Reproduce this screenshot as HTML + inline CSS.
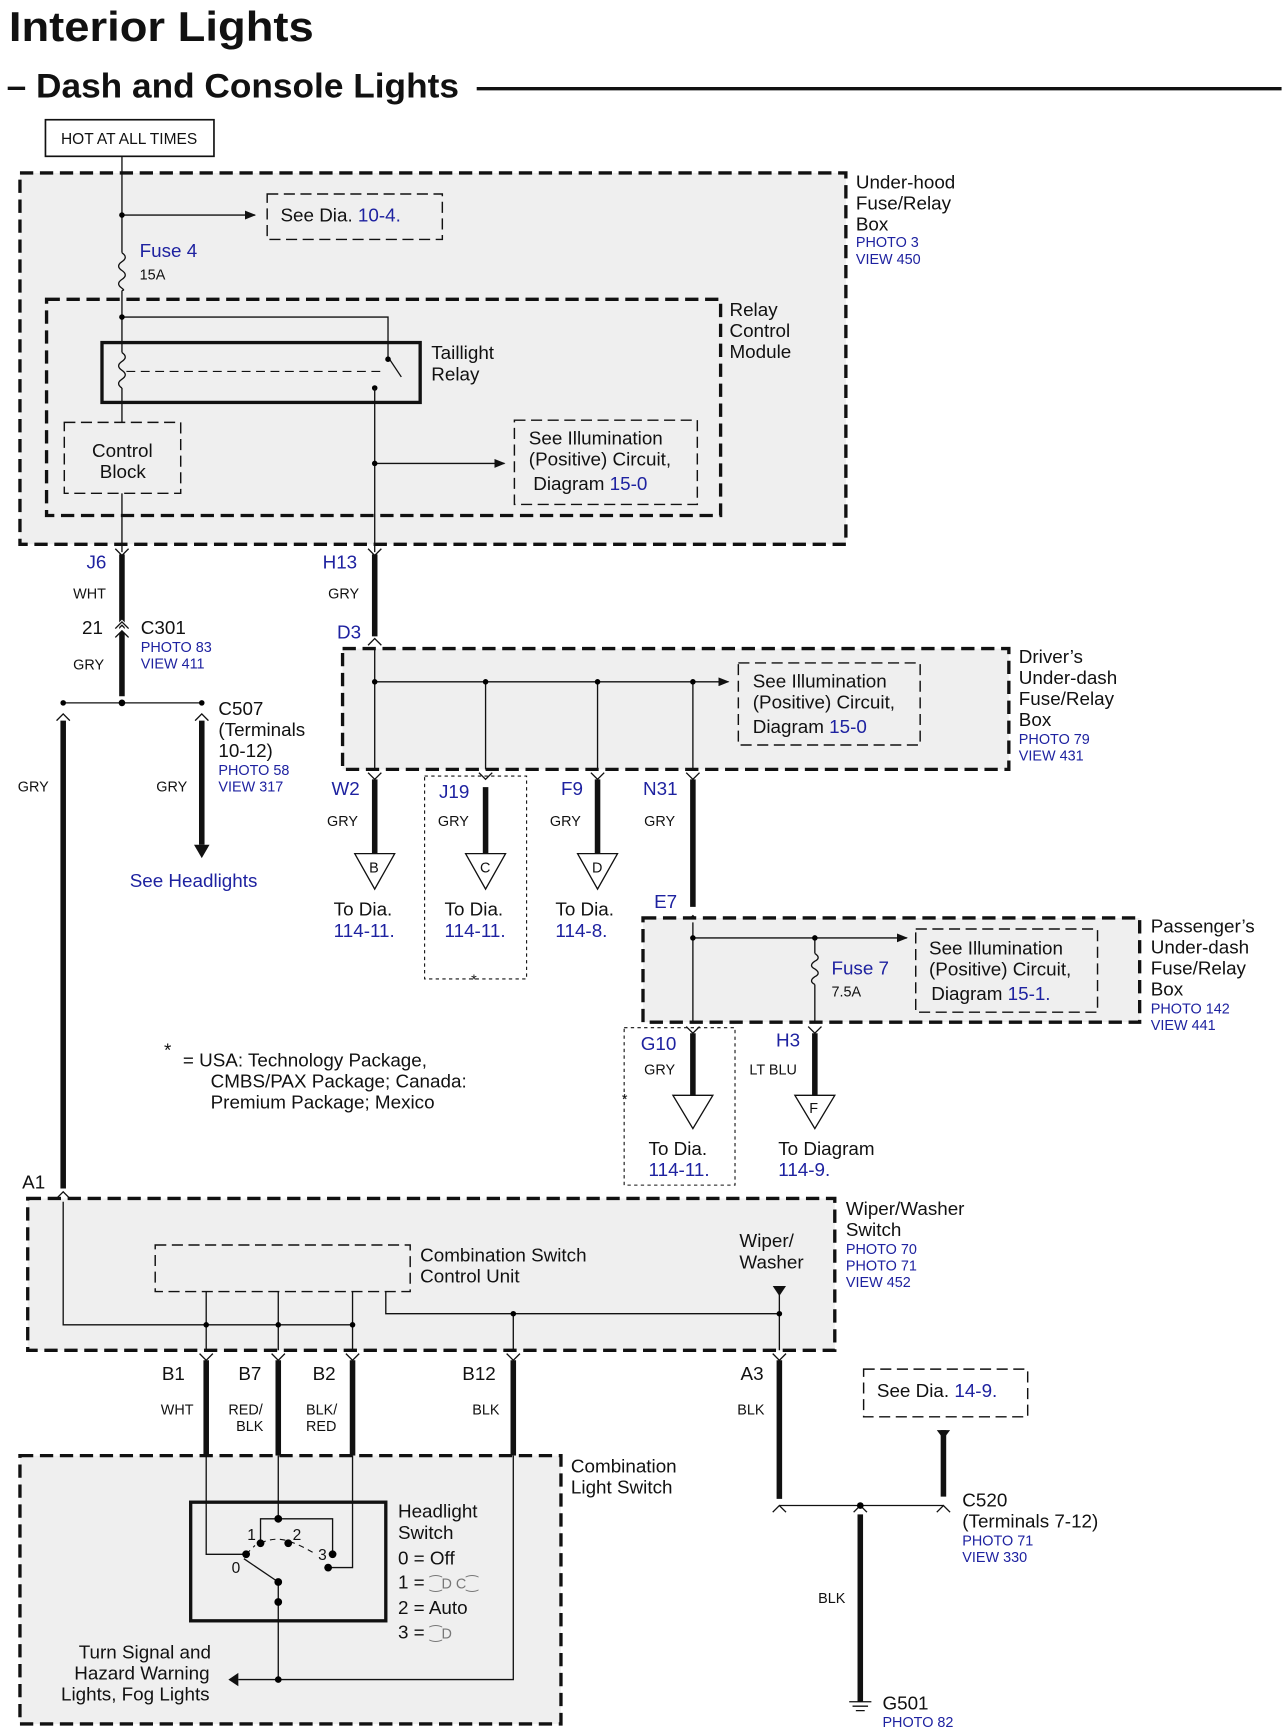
<!DOCTYPE html>
<html><head><meta charset="utf-8"><style>
html,body{margin:0;padding:0;background:#fff;}
svg{display:block;}
text{font-family:"Liberation Sans",Arial,sans-serif;fill:#111;}
.b{fill:#1e22a0;}
.s{font-size:13px;}
.m{font-size:17px;}
.bl{font-size:13px;fill:#1e22a0;}
.box{fill:#efefef;stroke:#111;stroke-width:3;stroke-dasharray:12 6;}
.ibox{fill:none;stroke:#111;stroke-width:1.3;stroke-dasharray:10 5;}
.dot{fill:none;stroke:#111;stroke-width:1;stroke-dasharray:3 3;}
.w{stroke:#111;stroke-width:1.2;fill:none;}
.W{stroke:#111;stroke-width:5;fill:none;}
</style></head><body>
<svg width="1286" height="1735" viewBox="0 0 1160 1565" preserveAspectRatio="none" xmlns="http://www.w3.org/2000/svg">
<defs>
<marker id="ar" markerWidth="10" markerHeight="8" refX="9" refY="4" orient="auto" markerUnits="userSpaceOnUse"><path d="M0,0 L10,4 L0,8z" fill="#111"/></marker>
</defs>
<text x="8" y="37" style="font-size:38px;font-weight:bold" textLength="275" lengthAdjust="spacingAndGlyphs">Interior Lights</text>
<text x="6" y="88" style="font-size:31px;font-weight:bold" textLength="408" lengthAdjust="spacingAndGlyphs">– Dash and Console Lights</text>
<line x1="430" y1="80" x2="1156" y2="80" stroke="#111" stroke-width="3"/>
<rect x="41" y="108" width="152" height="33" fill="#fff" stroke="#111" stroke-width="1.5"/>
<text x="55" y="130" class="s" style="font-size:14px">HOT AT ALL TIMES</text>

<!-- Under-hood -->
<rect x="18" y="156" width="745" height="335" class="box"/>
<rect x="42" y="270" width="608" height="195" class="box"/>
<text x="772" y="170" class="m">Under-hood</text><text x="772" y="189" class="m">Fuse/Relay</text><text x="772" y="208" class="m">Box</text>
<text x="772" y="223" class="bl">PHOTO 3</text><text x="772" y="238" class="bl">VIEW 450</text>
<path class="w" d="M110,141 V228 M110,262 V318 M110,350 V381 M110,445 V498"/>
<path class="w" d="M110,228 q6,4 0,8 q-6,4 0,8 q6,4 0,8 q-6,4 0,8 q3,2 0,2"/>
<line x1="110" y1="194" x2="230" y2="194" class="w" marker-end="url(#ar)"/>
<circle cx="110" cy="194" r="2.5"/>
<rect x="241" y="175" width="158" height="41" class="ibox" fill="none"/>
<text x="253" y="200" class="m">See  Dia. <tspan class="b">10-4.</tspan></text>
<text x="126" y="232" class="m b">Fuse 4</text><text x="126" y="252" class="s">15A</text>
<text x="658" y="285" class="m">Relay</text><text x="658" y="304" class="m">Control</text><text x="658" y="323" class="m">Module</text>
<rect x="92" y="309" width="287" height="54" fill="none" stroke="#111" stroke-width="3"/>
<text x="389" y="324" class="m">Taillight</text><text x="389" y="343" class="m">Relay</text>
<path class="w" d="M110,286 H350 V322 L362,340"/>
<circle cx="110" cy="286" r="2.5"/><circle cx="350" cy="324" r="2.5"/><circle cx="338" cy="350" r="2.5"/>
<path class="w" d="M110,318 q6,4 0,8 q-6,4 0,8 q6,4 0,8 q-6,4 0,8"/>
<line x1="114" y1="335" x2="345" y2="335" stroke="#111" stroke-dasharray="8 5"/>
<path class="w" d="M338,350 V498"/>
<line x1="338" y1="418" x2="455" y2="418" class="w" marker-end="url(#ar)"/><circle cx="338" cy="418" r="2.5"/>
<rect x="464" y="379" width="165" height="76" class="ibox"/>
<text x="477" y="401" class="m">See Illumination</text><text x="477" y="420" class="m">(Positive) Circuit,</text><text x="481" y="442" class="m">Diagram <tspan class="b">15-0</tspan></text>
<rect x="58" y="381" width="105" height="64" class="ibox"/>
<text x="83" y="412" class="m">Control</text><text x="90" y="431" class="m">Block</text>

<!-- J6 / H13 -->
<path class="W" d="M110,500 V628"/><path class="w" d="M104,495 l6,6 l6,-6 M332,495 l6,6 l6,-6"/>
<text x="78" y="513" class="m b">J6</text><text x="66" y="540" class="s">WHT</text>
<text x="74" y="572" class="m">21</text><text x="127" y="572" class="m">C301</text>
<text x="127" y="588" class="bl">PHOTO 83</text><text x="127" y="603" class="bl">VIEW 411</text>
<text x="66" y="604" class="s">GRY</text>
<path d="M104,567 l6,-6 l6,6 M104,573 l6,-6 l6,6" stroke="#fff" stroke-width="3" fill="none"/>
<path class="w" d="M104,567 l6,-6 l6,6 M104,575 l6,-6 l6,6"/>
<path class="w" d="M57,634 H182"/><circle cx="57" cy="634" r="2.5"/><circle cx="110" cy="634" r="3"/><circle cx="182" cy="634" r="2.5"/>
<path class="w" d="M51,650 l6,-6 l6,6 M176,650 l6,-6 l6,6"/>
<path class="W" d="M57,650 V1072"/><path class="W" d="M182,650 V762"/><path d="M175,762 h14 l-7,12z" fill="#111"/>
<text x="16" y="714" class="s">GRY</text><text x="141" y="714" class="s">GRY</text>
<text x="197" y="645" class="m">C507</text><text x="197" y="664" class="m">(Terminals</text><text x="197" y="683" class="m">10-12)</text>
<text x="197" y="699" class="bl">PHOTO 58</text><text x="197" y="714" class="bl">VIEW 317</text>
<text x="117" y="800" class="m b">See Headlights</text>
<path class="W" d="M338,500 V574"/>
<text x="291" y="513" class="m b">H13</text><text x="296" y="540" class="s">GRY</text>
<text x="304" y="576" class="m b">D3</text>
<path class="w" d="M332,582 l6,-6 l6,6"/>

<!-- Driver's -->
<rect x="309" y="585" width="601" height="109" class="box"/>
<text x="919" y="598" class="m">Driver’s</text><text x="919" y="617" class="m">Under-dash</text><text x="919" y="636" class="m">Fuse/Relay</text><text x="919" y="655" class="m">Box</text>
<text x="919" y="671" class="bl">PHOTO 79</text><text x="919" y="686" class="bl">VIEW 431</text>
<path class="w" d="M338,585 V694 M438,615 V694 M539,615 V694 M625,615 V694"/>
<line x1="338" y1="615" x2="657" y2="615" class="w" marker-end="url(#ar)"/>
<circle cx="338" cy="615" r="2.5"/><circle cx="438" cy="615" r="2.5"/><circle cx="539" cy="615" r="2.5"/><circle cx="625" cy="615" r="2.5"/>
<rect x="666" y="598" width="164" height="74" class="ibox"/>
<text x="679" y="620" class="m">See Illumination</text><text x="679" y="639" class="m">(Positive) Circuit,</text><text x="679" y="661" class="m">Diagram <tspan class="b">15-0</tspan></text>
<path class="w" d="M332,697 l6,6 l6,-6 M432,697 l6,6 l6,-6 M533,697 l6,6 l6,-6 M619,697 l6,6 l6,-6"/>
<path class="W" d="M338,703 V770 M438,710 V770 M539,703 V770 M625,703 V818"/>
<path class="w" d="M320,770 h36 l-18,32z M420,770 h36 l-18,32z M521,770 h36 l-18,32z"/>
<text x="333" y="787" class="s">B</text><text x="433" y="787" class="s">C</text><text x="534" y="787" class="s">D</text>
<text x="299" y="717" class="m b">W2</text><text x="396" y="720" class="m b">J19</text><text x="506" y="717" class="m b">F9</text><text x="580" y="717" class="m b">N31</text>
<text x="295" y="745" class="s">GRY</text><text x="395" y="745" class="s">GRY</text><text x="496" y="745" class="s">GRY</text><text x="581" y="745" class="s">GRY</text>
<rect x="383" y="700" width="92" height="183" class="dot"/>
<text x="425" y="888" class="s">*</text>
<text x="301" y="826" class="m">To  Dia.</text><text x="301" y="845" class="m b">114-11.</text>
<text x="401" y="826" class="m">To  Dia.</text><text x="401" y="845" class="m b">114-11.</text>
<text x="501" y="826" class="m">To  Dia.</text><text x="501" y="845" class="m b">114-8.</text>

<!-- Passenger -->
<text x="590" y="819" class="m b">E7</text>
<path class="w" d="M619,832 l6,-6 l6,6"/>
<rect x="580" y="828" width="448" height="94" class="box"/>
<text x="1038" y="841" class="m">Passenger’s</text><text x="1038" y="860" class="m">Under-dash</text><text x="1038" y="879" class="m">Fuse/Relay</text><text x="1038" y="898" class="m">Box</text>
<text x="1038" y="914" class="bl">PHOTO 142</text><text x="1038" y="929" class="bl">VIEW 441</text>
<path class="w" d="M625,832 V922 M735,846 V860 M735,888 V922"/>
<path class="w" d="M735,860 q6,4 0,7 q-6,4 0,7 q6,4 0,7 q-6,4 0,7"/>
<line x1="625" y1="846" x2="818" y2="846" class="w" marker-end="url(#ar)"/>
<circle cx="625" cy="846" r="2.5"/><circle cx="735" cy="846" r="2.5"/>
<text x="750" y="879" class="m b">Fuse 7</text><text x="750" y="899" class="s">7.5A</text>
<rect x="826" y="838" width="164" height="75" class="ibox"/>
<text x="838" y="861" class="m">See Illumination</text><text x="838" y="880" class="m">(Positive) Circuit,</text><text x="840" y="902" class="m">Diagram <tspan class="b">15-1.</tspan></text>
<path class="w" d="M619,926 l6,6 l6,-6 M729,926 l6,6 l6,-6"/>
<path class="W" d="M625,932 V988 M735,932 V988"/>
<path class="w" d="M607,988 h36 l-18,30z M717,988 h36 l-18,30z"/>
<text x="730" y="1004" class="s">F</text>
<rect x="563" y="927" width="100" height="142" class="dot"/>
<text x="578" y="947" class="m b">G10</text><text x="581" y="969" class="s">GRY</text><text x="561" y="996" class="s">*</text>
<text x="700" y="944" class="m b">H3</text><text x="676" y="969" class="s">LT BLU</text>
<text x="585" y="1042" class="m">To  Dia.</text><text x="585" y="1061" class="m b">114-11.</text>
<text x="702" y="1042" class="m">To Diagram</text><text x="702" y="1061" class="m b">114-9.</text>

<text x="148" y="953" class="m">*</text>
<text x="165" y="962" class="m">=  USA: Technology Package,</text>
<text x="190" y="981" class="m">CMBS/PAX Package; Canada:</text>
<text x="190" y="1000" class="m">Premium Package; Mexico</text>

<!-- Wiper -->
<text x="20" y="1072" class="m">A1</text>
<path class="w" d="M51,1081 l6,-6 l6,6"/>
<rect x="25" y="1081" width="728" height="137" class="box"/>
<text x="763" y="1096" class="m">Wiper/Washer</text><text x="763" y="1115" class="m">Switch</text>
<text x="763" y="1131" class="bl">PHOTO 70</text><text x="763" y="1146" class="bl">PHOTO 71</text><text x="763" y="1161" class="bl">VIEW 452</text>
<rect x="140" y="1123" width="230" height="42" class="ibox"/>
<text x="379" y="1138" class="m">Combination Switch</text><text x="379" y="1157" class="m">Control Unit</text>
<text x="667" y="1125" class="m">Wiper/</text><text x="667" y="1144" class="m">Washer</text>
<path class="w" d="M57,1084 V1195 H318 M186,1165 V1218 M251,1165 V1218 M318,1165 V1218 M348,1165 V1185 H703 M463,1185 V1218 M703,1168 V1218"/>
<path d="M697,1160 h12 l-6,9z" fill="#111"/>
<circle cx="186" cy="1195" r="2.5"/><circle cx="251" cy="1195" r="2.5"/><circle cx="318" cy="1195" r="2.5"/><circle cx="463" cy="1185" r="2.5"/><circle cx="703" cy="1185" r="2.5"/>
<path class="w" d="M180,1221 l6,6 l6,-6 M245,1221 l6,6 l6,-6 M312,1221 l6,6 l6,-6 M457,1221 l6,6 l6,-6 M697,1221 l6,6 l6,-6"/>
<path class="W" d="M186,1227 V1313 M251,1227 V1313 M318,1227 V1313 M463,1227 V1313 M703,1227 V1352"/>
<text x="146" y="1245" class="m">B1</text><text x="215" y="1245" class="m">B7</text><text x="282" y="1245" class="m">B2</text><text x="417" y="1245" class="m">B12</text><text x="668" y="1245" class="m">A3</text>
<text x="145" y="1276" class="s">WHT</text><text x="206" y="1276" class="s">RED/</text><text x="213" y="1291" class="s">BLK</text>
<text x="276" y="1276" class="s">BLK/</text><text x="276" y="1291" class="s">RED</text>
<text x="426" y="1276" class="s">BLK</text><text x="665" y="1276" class="s">BLK</text>

<!-- Combination light switch -->
<rect x="18" y="1313" width="488" height="242" class="box"/>
<text x="515" y="1328" class="m">Combination</text><text x="515" y="1347" class="m">Light Switch</text>
<rect x="172" y="1355" width="176" height="107" fill="none" stroke="#111" stroke-width="3"/>
<path class="w" d="M186,1313 V1402 H222 M251,1313 V1370 M235,1392 V1370 H300 V1400 M318,1313 V1414 H296 M251,1427 V1515 M463,1313 V1515 H215"/>
<path d="M222,1402 l8,-8 M235,1392 q12,-6 25,-2 q12,4 25,12" stroke="#111" stroke-dasharray="5 4" fill="none"/>
<path class="w" d="M251,1427 L220,1406"/>
<circle cx="251" cy="1370" r="3.5"/><circle cx="222" cy="1402" r="3.5"/><circle cx="235" cy="1392" r="3.5"/><circle cx="260" cy="1392" r="3.5"/><circle cx="300" cy="1402" r="3.5"/><circle cx="296" cy="1414" r="3.5"/><circle cx="251" cy="1427" r="3.5"/><circle cx="251" cy="1445" r="3.5"/><circle cx="251" cy="1515" r="3"/>
<path d="M215,1509 v12 l-9,-6z" fill="#111"/>
<text x="223" y="1389" class="s" style="font-size:14px">1</text><text x="264" y="1389" class="s" style="font-size:14px">2</text><text x="287" y="1407" class="s" style="font-size:14px">3</text><text x="209" y="1419" class="s" style="font-size:14px">0</text>
<text x="359" y="1369" class="m">Headlight</text><text x="359" y="1388" class="m">Switch</text>
<text x="359" y="1411" class="m">0 = Off</text><text x="359" y="1433" class="m">1 = <tspan style="font-size:13px;fill:#777">⁐D C⁐</tspan></text>
<text x="359" y="1456" class="m">2 = Auto</text><text x="359" y="1478" class="m">3 = <tspan style="font-size:13px;fill:#777">⁐D</tspan></text>
<text x="71" y="1496" class="m">Turn Signal and</text><text x="67" y="1515" class="m">Hazard Warning</text><text x="55" y="1534" class="m">Lights, Fog Lights</text>

<!-- C520 -->
<rect x="779" y="1235" width="148" height="43" class="ibox"/>
<text x="791" y="1260" class="m">See  Dia.  <tspan class="b">14-9.</tspan></text>
<path class="W" d="M851,1290 V1350"/><path d="M845,1290 h12 l-6,8z" fill="#111"/>
<path class="w" d="M703,1358 H851"/>
<path class="w" d="M697,1364 l6,-6 l6,6 M845,1364 l6,-6 l6,6 M770,1364 l6,-6 l6,6"/>
<circle cx="776" cy="1358" r="3"/>
<path class="W" d="M776,1366 V1535"/>
<path class="w" d="M766,1535 h20 M769,1539 h14 M772,1543 h8"/>
<text x="868" y="1359" class="m">C520</text><text x="868" y="1378" class="m">(Terminals 7-12)</text>
<text x="868" y="1394" class="bl">PHOTO 71</text><text x="868" y="1409" class="bl">VIEW 330</text>
<text x="738" y="1446" class="s">BLK</text>
<text x="796" y="1542" class="m">G501</text><text x="796" y="1558" class="bl">PHOTO 82</text>
</svg>
</body></html>
